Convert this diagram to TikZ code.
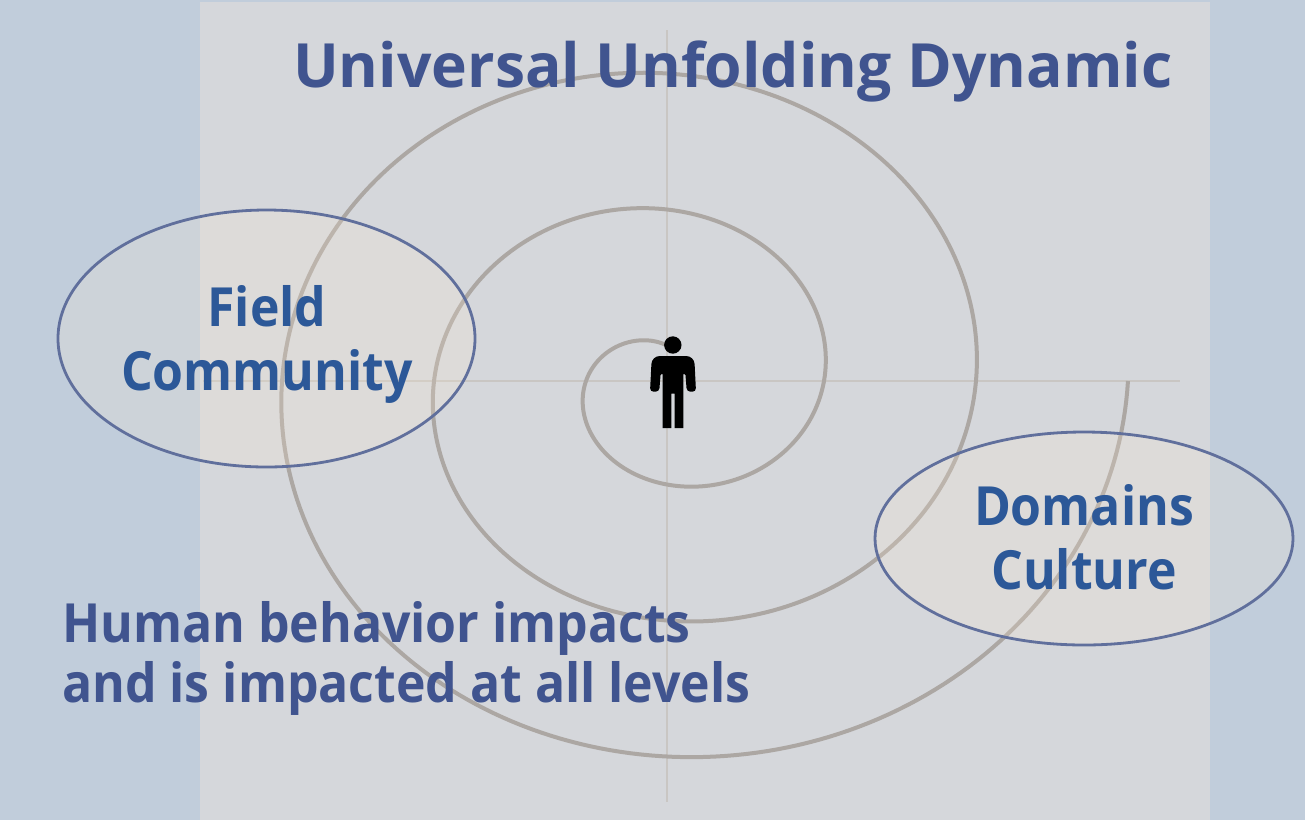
\documentclass[tikz,border=0pt]{standalone}
\usepackage{fontspec}
\newfontfamily\osanstitle{Open Sans}[FakeStretch=0.993]
\newfontfamily\osansnarrow{Open Sans}[FakeStretch=0.925]
\usetikzlibrary{shapes.geometric}
\definecolor{bgblue}{RGB}{193,205,219}
\definecolor{panelgray}{RGB}{213,215,219}
\definecolor{spiralgray}{RGB}{172,167,163}
\definecolor{crossgray}{RGB}{201,198,195}
\definecolor{ellfill}{RGB}{255,235,209}
\definecolor{elldraw}{RGB}{96,111,156}
\definecolor{titleblue}{RGB}{64,84,143}
\definecolor{labelblue}{RGB}{44,88,152}
\tikzset{
  crossline/.style={draw=crossgray, line width=2pt},
  spiralline/.style={draw=spiralgray, line width=4pt, line join=round},
  oval/.style={ellipse, draw=elldraw, line width=2.8pt, fill=ellfill, fill opacity=0.2, draw opacity=1, inner sep=0pt},
  titletext/.style={inner sep=0pt, text=titleblue, font=\osanstitle\bfseries\fontsize{61}{70}\selectfont},
  labeltext/.style={inner sep=0pt, text=labelblue, font=\osansnarrow\bfseries\fontsize{54}{64}\selectfont},
  bodytext/.style={inner sep=0pt, text=titleblue, font=\osansnarrow\bfseries\fontsize{54}{62}\selectfont},
}
\begin{document}
\begin{tikzpicture}[x=1pt,y=-1pt]
\useasboundingbox (0,0) rectangle (1305,820);
\fill[bgblue] (0,0) rectangle (1305,820);
\fill[panelgray] (200,2) rectangle (1210,820);
% crosshair
\coordinate (vtop) at (667,30);
\coordinate (vbot) at (667,802);
\coordinate (hleft) at (203,381);
\coordinate (hright) at (1180,381);
\draw[crossline] (vtop) -- (vbot);
\draw[crossline] (hleft) -- (hright);
% spiral
\draw[spiralline] plot[domain=90:1080, samples=700] ({667+(5+0.4222*\x)*cos(\x)}, {381-(1.5+0.3778*\x)*sin(\x)});
% ovals
\node[oval, minimum width=417pt, minimum height=257pt] (field) at (266.5,338.5) {};
\node[oval, minimum width=418pt, minimum height=213pt] (domains) at (1084,538.5) {};
% person
\fill[black] (672.8,345) circle (8.7);
\fill[black] (662.7,428) -- (662.7,374) [rounded corners=1pt] -- (660.6,374) [rounded corners=3.5pt] -- (659.2,391.7) -- (650,391.7) [rounded corners=8pt] -- (651.8,356) -- (694.2,356) [rounded corners=3.5pt] -- (696,391.7) -- (686.8,391.7) [rounded corners=1pt] -- (685.4,374) [sharp corners] -- (683.3,374) -- (683.3,428) -- (674.6,428) -- (674.6,393.5) -- (671.4,393.5) -- (671.4,428) -- cycle;
% texts
\node[titletext, anchor=base west] (title) at (293,87) {Universal Unfolding Dynamic};
\node[labeltext, anchor=base] (field1) at (267,326) {Field};
\node[labeltext, anchor=base] (field2) at (267,390) {Community};
\node[labeltext, anchor=base] (dom1) at (1084,525) {Domains};
\node[labeltext, anchor=base] (dom2) at (1084,589) {Culture};
\node[bodytext, anchor=base west] (human1) at (62,642) {Human behavior impacts};
\node[bodytext, anchor=base west] (human2) at (62,702) {and is impacted at all levels};
\end{tikzpicture}
\end{document}
